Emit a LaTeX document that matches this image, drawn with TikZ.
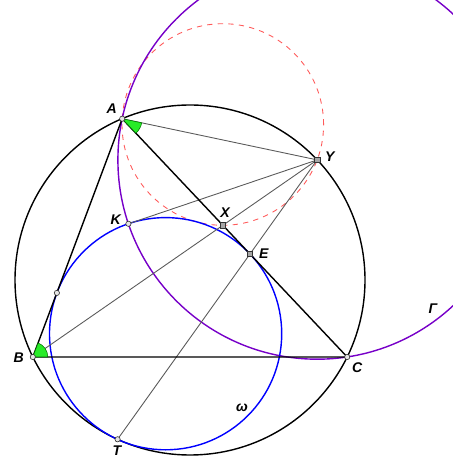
\documentclass[tikz,border=0pt]{standalone}
\usepackage{fontspec}
\setmainfont{Liberation Sans}
\definecolor{gammaviolet}{RGB}{119,0,200}
\definecolor{circred}{RGB}{255,90,90}
\definecolor{angfill}{RGB}{40,235,40}
\begin{document}
\begin{tikzpicture}[x=0.02cm,y=0.02cm,
    lbl/.style={font=\fontsize{8}{9}\selectfont\bfseries\itshape,inner sep=1pt},
    chord/.style={draw=black!65,line width=0.5pt},
    side/.style={draw=black,line width=0.8pt},
    ptround/.style={circle,draw=black!80,fill=black!10,line width=0.35pt,inner sep=0pt,minimum size=3pt},
    ptsquare/.style={rectangle,draw=black!80,fill=black!35,line width=0.35pt,inner sep=0pt,minimum size=3pt},
    wedge/.style={fill=angfill,draw=green!45!black,line width=0.3pt}]
    \useasboundingbox (0,0) rectangle (453,460);
    \clip (0,0) rectangle (453,460);
    %% points
    \coordinate (A) at (122.2,341.3);
    \coordinate (B) at (32.8,103.0);
    \coordinate (C) at (347.2,103.0);
    \coordinate (Y) at (317.2,300.1);
    \coordinate (X) at (222.8,234.7);
    \coordinate (E) at (249.9,206.0);
    \coordinate (D) at (56.9,167.1);
    \coordinate (K) at (128.4,236.2);
    \coordinate (T) at (117.6,20.7);
    \coordinate (O) at (190,180);
    \coordinate (W) at (165.6,126.3);
    \coordinate (R) at (222.8,335.5);
    %% circles
    \draw[circred,dashed,line width=0.5pt] (R) circle (100.8);
    \draw[gammaviolet,line width=0.8pt] (Y) circle (199.3);
    \draw[black,line width=0.8pt] (O) circle (175);
    \draw[blue,line width=0.8pt] (W) circle (116.1);
    %% lines to Y
    \draw[chord] (A) -- (Y);
    \draw[chord] (K) -- (Y);
    \draw[chord] (B) -- (Y);
    \draw[chord] (T) -- (Y);
    %% triangle
    \draw[side] (A) -- (B) -- (C) -- cycle;
    %% angles
    \draw[wedge] (A) -- ++(-46.65:20) arc (-46.65:-11.93:20) -- cycle;
    \draw[wedge] (B) -- ++(0:15) arc (0:69.43:15) -- cycle;
    %% marks
    \foreach \p in {A,B,C,D,K,T} \node[ptround] (m\p) at (\p) {};
    \foreach \p in {X,Y,E} \node[ptsquare] (m\p) at (\p) {};
    %% labels
    \node[lbl,anchor=south east] (lA) at (119,344) {A};
    \node[lbl,anchor=east] (lB) at (26,102) {B};
    \node[lbl,anchor=north west] (lC) at (350,99) {C};
    \node[lbl,anchor=west] (lY) at (323,303) {Y};
    \node[lbl,anchor=south] (lX) at (225,240) {X};
    \node[lbl,anchor=west] (lE) at (257,206) {E};
    \node[lbl,anchor=east] (lK) at (123,240) {K};
    \node[lbl,anchor=north] (lT) at (117,16) {T};
    \node[lbl] (lG) at (433,151) {Γ};
    \node[lbl] (lw) at (242,52) {ω};
\end{tikzpicture}
\end{document}
